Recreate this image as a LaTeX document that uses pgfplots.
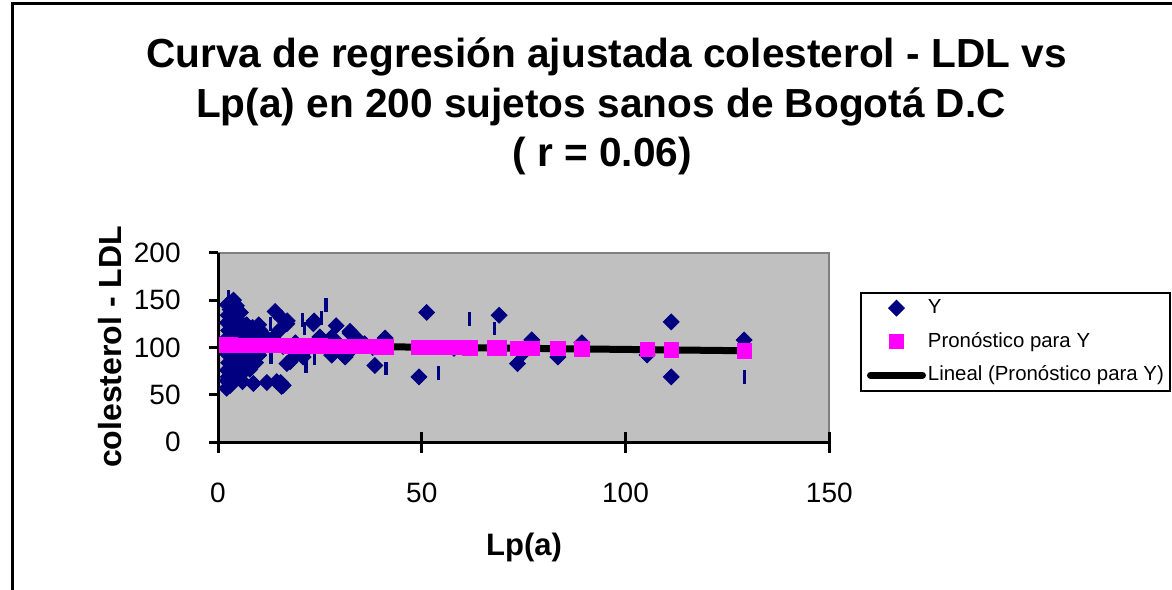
\documentclass[border=0pt]{standalone}
\usepackage{fontspec}
\setmainfont{Liberation Sans}
\usepackage{pgfplots}
\usepackage{pgfplotstable}
\pgfplotsset{compat=1.18}

\definecolor{navyY}{HTML}{000080}
\definecolor{pinkP}{HTML}{FF00FF}
\definecolor{plotgray}{HTML}{C0C0C0}
\definecolor{edgegray}{HTML}{808080}

\pgfplotsset{
  markleg/.style={legend image code/.code={%
    \draw[mark repeat=2, mark phase=2, ##1] plot coordinates {(0bp,0bp) (13bp,0bp) (26bp,0bp)};}},
  lineleg/.style={legend image code/.code={%
    \draw[##1] (0bp,0bp) -- (26bp,0bp);}},
}

% Lp(a) vs colesterol - LDL (observed)
\pgfplotstableread{
x y
2.3 145
3.0 140
4.5 144
2.5 134
4.0 131
5.5 137
2.3 126
3.8 123
5.5 127
7.0 124
8.5 121
10.0 124
2.6 118
4.2 115
6.0 117
7.8 113
9.5 110
11.5 112
2.3 110
3.8 107
5.5 108
7.0 104
9.0 103
11.0 100
2.8 100
4.5 97
6.3 96
8.0 94
10.0 92
2.3 93
3.7 89
5.4 88
7.2 86
9.2 84
2.6 84
4.2 80
6.0 79
7.8 77
2.3 76
3.8 73
5.5 71
2.5 69
4.2 66
6.0 64
3.0 60
12.5 104
13.5 110
16.0 101
19.0 105
22.0 99
24.0 103
26.0 106
30.0 102
33.0 99
36.0 104
38.0 100
40.0 103
3.8 150
14.0 138
17.0 128
23.6 128
29.0 123
32.4 115
41.0 110
15.0 118
10.3 118
8.7 62
12.0 63
15.4 63
15.6 59
2.1 57
2.2 65
16.9 83
18.4 89
27.9 92
31.2 90
38.5 81
25.0 111
27.9 111
16.9 125
15.6 131
17.7 85
14.4 64
16.0 60
20.9 90
34.4 108
32.4 117
27.9 97
23.4 125
51.2 137
49.3 69
69.0 134
73.5 83
77.0 108
74.8 94
83.4 90
89.3 105
105.3 92
111.2 127
111.2 69
129.1 108
57.9 99
}\obsY

% observations drawn as thin bars
\pgfplotstableread{
x y
61.8 130
54.1 73
67.8 120
129.1 69
2.5 153
6.0 138
12.8 125
26.5 145
20.8 129
25.4 131
21.3 120
21.6 80
23.6 89
41.2 78
13.0 90
}\obsBars

% fitted values
\pgfplotstableread{
x y
2.1 102.60
2.3 102.59
2.5 102.58
2.8 102.57
3.0 102.56
3.8 102.52
4.2 102.50
4.5 102.49
5.5 102.44
6.0 102.42
7.0 102.37
7.8 102.33
8.7 102.29
9.5 102.25
10.3 102.21
11.0 102.18
12.0 102.13
12.8 102.09
13.5 102.06
14.4 102.02
15.4 101.97
16.0 101.94
16.9 101.90
17.7 101.86
18.4 101.83
19.0 101.80
20.9 101.71
21.6 101.68
22.0 101.66
23.4 101.59
24.0 101.56
25.0 101.52
26.0 101.47
26.5 101.45
27.9 101.38
29.0 101.33
30.0 101.28
31.2 101.22
32.4 101.17
33.0 101.14
34.4 101.07
36.0 101.00
38.0 100.90
38.5 100.88
40.0 100.81
41.2 100.75
49.3 100.37
51.2 100.28
54.1 100.14
57.9 99.96
61.8 99.78
67.8 99.49
69.0 99.44
73.5 99.22
74.8 99.16
77.0 99.06
83.4 98.76
89.3 98.48
105.3 97.72
111.2 97.44
129.1 96.59
}\fitY

\begin{document}
\begin{tikzpicture}
\path[use as bounding box] (0,0) rectangle (586bp,295bp);
\draw[line width=1.5bp] (6bp,0bp) -- (6bp,293bp) -- (586bp,293bp);

\node[anchor=base, inner sep=0pt, font=\fontsize{20.3bp}{24bp}\selectfont\bfseries]
  at (303.2bp,261.2bp) {Curva de regresión ajustada colesterol - LDL vs};
\node[anchor=base, inner sep=0pt, font=\fontsize{20.3bp}{24bp}\selectfont\bfseries]
  at (300.5bp,236.3bp) {Lp(a) en 200 sujetos sanos de Bogotá D.C};
\node[anchor=base, inner sep=0pt, font=\fontsize{20.3bp}{24bp}\selectfont\bfseries]
  at (301bp,211.5bp) {( r = 0.06)};

\node[anchor=base, inner sep=0pt, font=\fontsize{15.5bp}{18bp}\selectfont\bfseries]
  at (262bp,17.5bp) {Lp(a)};
\node[anchor=base, rotate=90, inner sep=0pt, font=\fontsize{16bp}{18bp}\selectfont\bfseries]
  at (60.9bp,121.5bp) {colesterol - LDL};

\begin{axis}[
  at={(109bp,73.85bp)}, anchor=south west,
  scale only axis, width=305.65bp, height=94.8bp,
  xmin=0, xmax=150, ymin=0, ymax=200,
  axis lines=left,
  axis line style={-, black, line width=1.5bp},
  axis background/.style={fill=plotgray, draw=edgegray, line width=1bp},
  ytick={0,50,100,150,200},
  xtick=\empty,
  extra x ticks={0,50,100,150},
  extra x tick style={tick align=center, major tick length=10.5bp},
  tick align=outside, major tick length=4.5bp,
  tick style={black, line width=1.5bp},
  /pgf/number format/assume math mode=true,
  tick label style={font=\fontsize{14bp}{16bp}\selectfont, inner sep=0pt},
  xticklabel style={anchor=north, yshift=-15bp},
  yticklabel style={anchor=east, xshift=-14bp},
  legend style={
    at={(1.0502,0.7943)}, anchor=north west,
    draw=black, line width=1bp, fill=white,
    font=\fontsize{10.2bp}{12bp}\selectfont,
    inner xsep=3bp, inner ysep=2.5bp, row sep=6.25bp,
    nodes={inner sep=0pt, text height=8bp, text depth=2.5bp},
    column sep=1bp,
  },
  legend cell align=left,
]
\addplot[only marks, mark=square*, mark size=2.8bp,
  mark options={rotate=45, fill=navyY, draw=navyY, line width=0.4bp}, markleg]
  table {\obsY};
\addlegendentry{Y}
\addplot[only marks, mark=|, mark size=3.4bp,
  mark options={draw=navyY, line width=1.6bp}, forget plot]
  table {\obsBars};
\addplot[only marks, mark=square*, mark size=3.6bp,
  mark options={fill=pinkP, draw=pinkP, line width=0.4bp}, markleg]
  table {\fitY};
\addlegendentry{Pronóstico para Y}
\addplot[black, line width=3.5bp, line cap=round, mark=none, lineleg]
  coordinates {(2.1,102.60) (129.1,96.59)};
\addlegendentry{Lineal (Pronóstico para Y)}
\end{axis}
\end{tikzpicture}
\end{document}
